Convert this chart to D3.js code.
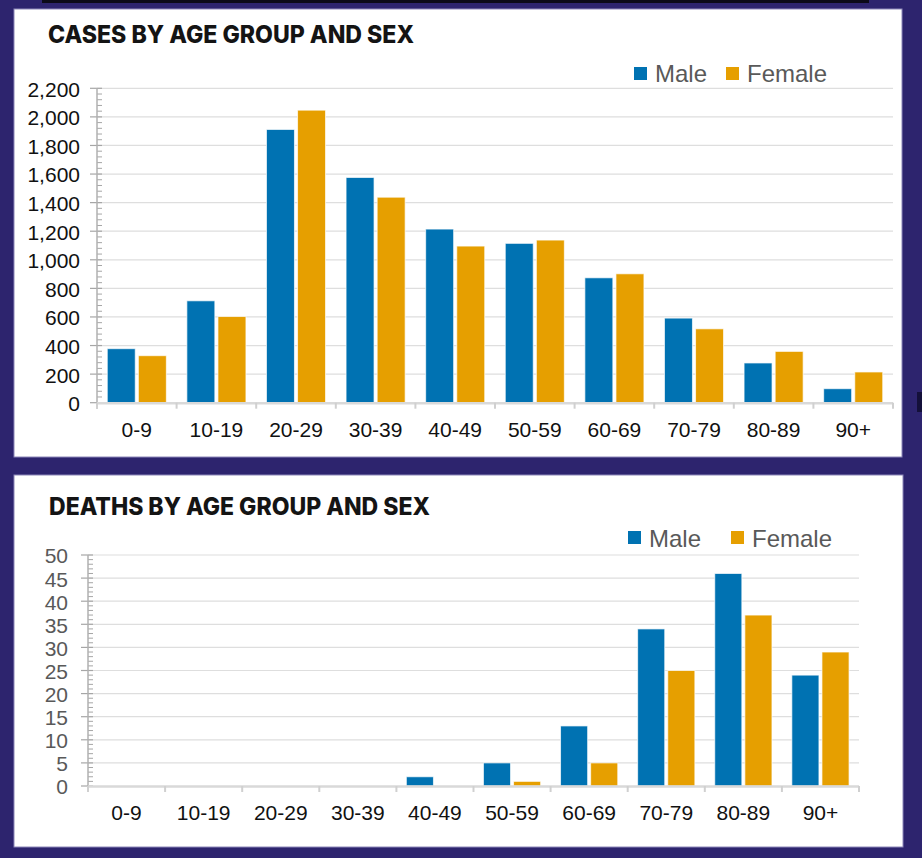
<!DOCTYPE html>
<html>
<head>
<meta charset="utf-8">
<script src="https://cdn.jsdelivr.net/npm/d3@7"></script>
<style>
  body { margin: 0; background: #2d246e; }
  svg { display: block; }
</style>
</head>
<body>
<svg width="922" height="858"></svg>
<script>
const ageGroups = ["0-9", "10-19", "20-29", "30-39", "40-49", "50-59", "60-69", "70-79", "80-89", "90+"];
const sexes = ["Male", "Female"];

const casesMale = [378, 713, 1912, 1576, 1215, 1115, 874, 592, 278, 98];
const casesFemale = [329, 603, 2047, 1438, 1096, 1138, 902, 517, 359, 215];
const casesTicks = [0, 200, 400, 600, 800, 1000, 1200, 1400, 1600, 1800, 2000, 2200];

const deathsMale = [0, 0, 0, 0, 2, 5, 13, 34, 46, 24];
const deathsFemale = [0, 0, 0, 0, 0, 1, 5, 25, 37, 29];
const deathsTicks = [0, 5, 10, 15, 20, 25, 30, 35, 40, 45, 50];

const colors = { Male: "#0072b2", Female: "#e69f00" };

const svg = d3.select("svg");
const font = "'Liberation Sans', Arial, sans-serif";

// little dark strip at the top and the notch on the right
svg.append("rect").attr("x", 42).attr("y", 0).attr("width", 827).attr("height", 3).attr("fill", "#0b0a18");
svg.append("rect").attr("x", 917).attr("y", 392).attr("width", 5).attr("height", 20).attr("fill", "#14103a");

const drawChart = (cfg) => {
  const g = svg.append("g");

  g.append("rect")
    .attr("x", cfg.panel[0]).attr("y", cfg.panel[1])
    .attr("width", cfg.panel[2]).attr("height", cfg.panel[3])
    .attr("fill", "#fff").attr("stroke", "#8c86b8").attr("stroke-width", 1);

  g.append("text")
    .attr("x", cfg.title.x).attr("y", cfg.title.y)
    .attr("textLength", cfg.title.len).attr("lengthAdjust", "spacingAndGlyphs")
    .attr("font-family", "Inter, 'DejaVu Sans', sans-serif")
    .attr("font-weight", 800).attr("font-size", 24)
    .attr("fill", "#141414")
    .text(cfg.title.text);

  const x = d3.scaleBand().domain(ageGroups).range([cfg.x0, cfg.x1]);
  const xSex = d3.scaleBand().domain(sexes).range([0, x.bandwidth()])
    .paddingInner(0.1).paddingOuter(0.33);
  const y = d3.scaleLinear().domain([0, d3.max(cfg.ticks)]).range([cfg.y1, cfg.y0]);

  // gridlines
  g.selectAll(".grid").data(cfg.ticks.slice(1)).enter().append("line")
    .attr("x1", cfg.x0).attr("x2", cfg.x1)
    .attr("y1", (d) => y(d)).attr("y2", (d) => y(d))
    .attr("stroke", "#dedede").attr("stroke-width", 1.2);

  // minor ticks
  const minor = d3.range(0, d3.max(cfg.ticks) + 0.001, cfg.minorStep)
    .filter((v) => !cfg.ticks.includes(v));
  g.selectAll(".minor").data(minor).enter().append("line")
    .attr("x1", cfg.x0).attr("x2", cfg.x0 + 5)
    .attr("y1", (d) => y(d)).attr("y2", (d) => y(d))
    .attr("stroke", "#a6a6a6").attr("stroke-width", 1);

  // major ticks
  g.selectAll(".major").data(cfg.ticks).enter().append("line")
    .attr("x1", cfg.x0 - 7).attr("x2", cfg.x0 + 5)
    .attr("y1", (d) => y(d)).attr("y2", (d) => y(d))
    .attr("stroke", "#a6a6a6").attr("stroke-width", 1.2);

  // y axis line
  g.append("line")
    .attr("x1", cfg.x0).attr("x2", cfg.x0)
    .attr("y1", y(d3.max(cfg.ticks))).attr("y2", cfg.y1 + 6)
    .attr("stroke", "#b0b0b0").attr("stroke-width", 1.5);

  // y labels
  g.selectAll(".ylab").data(cfg.ticks).enter().append("text")
    .attr("x", cfg.labelX).attr("y", (d) => y(d)).attr("dy", "0.4em")
    .attr("text-anchor", "end")
    .attr("font-family", font).attr("font-size", 21)
    .attr("fill", cfg.labelColor)
    .text((d) => cfg.format(d));

  // bars
  const rows = [];
  ageGroups.forEach((a, i) => {
    rows.push({ age: a, sex: "Male", value: cfg.male[i] });
    rows.push({ age: a, sex: "Female", value: cfg.female[i] });
  });
  g.selectAll(".bar").data(rows.filter((d) => d.value > 0)).enter().append("rect")
    .attr("x", (d) => x(d.age) + xSex(d.sex))
    .attr("y", (d) => y(d.value))
    .attr("width", xSex.bandwidth())
    .attr("height", (d) => y(0) - y(d.value))
    .attr("fill", (d) => colors[d.sex])
    .attr("stroke", "#ffffff").attr("stroke-opacity", 0.7).attr("stroke-width", 1);

  // x axis line and category ticks
  g.append("line")
    .attr("x1", cfg.x0).attr("x2", cfg.x1)
    .attr("y1", cfg.y1 + 0.5).attr("y2", cfg.y1 + 0.5)
    .attr("stroke", "#d9d9d9").attr("stroke-width", 2.5);
  const bounds = ageGroups.map((a) => x(a)).concat([cfg.x1]);
  g.selectAll(".xtick").data(bounds).enter().append("line")
    .attr("x1", (d) => d).attr("x2", (d) => d)
    .attr("y1", cfg.y1).attr("y2", cfg.y1 + 6)
    .attr("stroke", "#d0d0d0").attr("stroke-width", 2);

  g.selectAll(".xlab").data(ageGroups).enter().append("text")
    .attr("x", (d) => x(d) + x.bandwidth() / 2)
    .attr("y", cfg.xLabelY)
    .attr("text-anchor", "middle")
    .attr("font-family", font).attr("font-size", 21)
    .attr("fill", "#111")
    .text((d) => d);

  // legend
  const leg = g.selectAll(".leg").data(sexes).enter().append("g")
    .attr("transform", (d, i) => `translate(${cfg.legend.xs[i]},${cfg.legend.y})`);
  leg.append("rect").attr("width", 13).attr("height", 13)
    .attr("fill", (d) => colors[d]);
  leg.append("text")
    .attr("x", 21).attr("y", cfg.legend.textDy)
    .attr("font-family", font).attr("font-size", 24)
    .attr("fill", "#595959")
    .text((d) => d);
};

drawChart({
  panel: [14, 9, 888, 448],
  title: { x: 48, y: 43, len: 366, text: "CASES BY AGE GROUP AND SEX" },
  x0: 97, x1: 893, y0: 88.3, y1: 402.7,
  ticks: casesTicks, minorStep: 40,
  male: casesMale, female: casesFemale,
  labelX: 80, labelColor: "#111", format: d3.format(","),
  xLabelY: 437,
  legend: { xs: [634, 726], y: 67, textDy: 15 }
});

drawChart({
  panel: [14, 475, 889, 372],
  title: { x: 49, y: 515, len: 381, text: "DEATHS BY AGE GROUP AND SEX" },
  x0: 88, x1: 859, y0: 555, y1: 786,
  ticks: deathsTicks, minorStep: 1,
  male: deathsMale, female: deathsFemale,
  labelX: 68, labelColor: "#595959", format: d3.format("d"),
  xLabelY: 820,
  legend: { xs: [628, 731], y: 531, textDy: 15.5 }
});
</script>
</body>
</html>
